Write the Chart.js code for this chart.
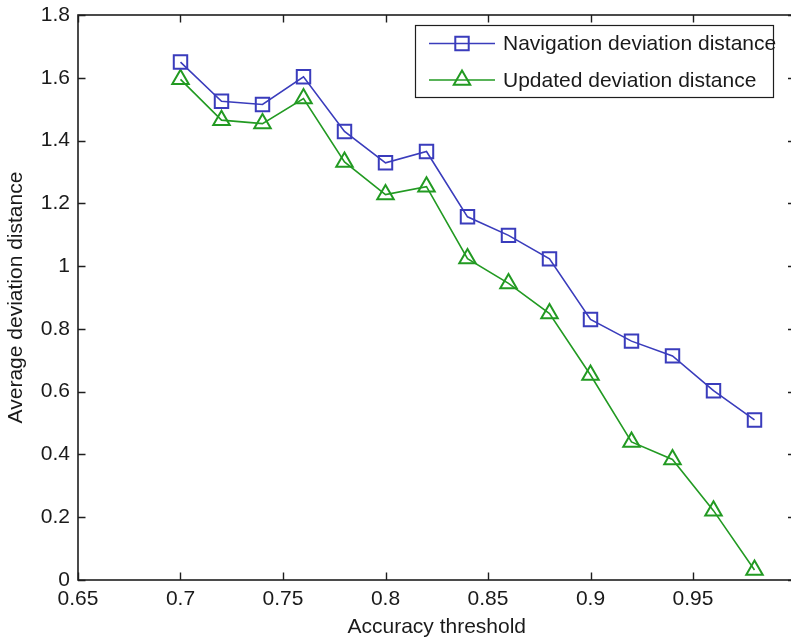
<!DOCTYPE html>
<html>
<head>
<meta charset="utf-8">
<script src="https://cdn.jsdelivr.net/npm/chart.js@4.4.1/dist/chart.umd.min.js"></script>
<style>
  html, body { margin: 0; padding: 0; background: #ffffff; overflow: hidden; }
  #wrap { width: 807px; height: 641px; }
</style>
</head>
<body>
<div id="wrap"><canvas id="c" width="807" height="641"></canvas></div>
<script>
// ---- data ----
const thresholds = [0.70, 0.72, 0.74, 0.76, 0.78, 0.80, 0.82, 0.84, 0.86, 0.88, 0.90, 0.92, 0.94, 0.96, 0.98];
const navigationDeviation = [1.650, 1.525, 1.515, 1.603, 1.429, 1.329, 1.365, 1.157, 1.098, 1.023, 0.830, 0.761, 0.714, 0.603, 0.510];
const updatedDeviation = [1.595, 1.465, 1.454, 1.534, 1.332, 1.228, 1.253, 1.024, 0.945, 0.849, 0.653, 0.440, 0.384, 0.221, 0.032];
const xTickValues = [0.65, 0.70, 0.75, 0.80, 0.85, 0.90, 0.95, 1.00];
const yTickValues = [0, 0.2, 0.4, 0.6, 0.8, 1.0, 1.2, 1.4, 1.6, 1.8];
const seriesNames = ['Navigation deviation distance', 'Updated deviation distance'];
const xTitle = 'Accuracy threshold';
const yTitle = 'Average deviation distance';

const BLUE = '#3a3cbc';
const GREEN = '#229a22';
const AXIS = '#1e1e1e';
const TEXT = '#1a1a1a';
const FONT = "'Liberation Sans', Arial, sans-serif";

function fmt(v) { return String(parseFloat(v.toFixed(2))); }

const toPoints = (ys) => thresholds.map((x, i) => ({ x: x, y: ys[i] }));

// box + inward ticks, MATLAB style
const boxPlugin = {
  id: 'matlabBox',
  afterDatasetsDraw(chart) {
    const { ctx, chartArea: a, scales } = chart;
    ctx.save();
    ctx.strokeStyle = AXIS;
    ctx.lineWidth = 1.6;
    ctx.strokeRect(a.left, a.top, a.right - a.left, a.bottom - a.top);
    const tl = 7.5;
    ctx.beginPath();
    xTickValues.forEach(v => {
      const px = Math.round(scales.x.getPixelForValue(v)) + 0.5;
      ctx.moveTo(px, a.bottom); ctx.lineTo(px, a.bottom - tl);
      ctx.moveTo(px, a.top); ctx.lineTo(px, a.top + tl);
    });
    yTickValues.forEach(v => {
      const py = Math.round(scales.y.getPixelForValue(v)) + 0.5;
      ctx.moveTo(a.left, py); ctx.lineTo(a.left + tl, py);
      ctx.moveTo(a.right, py); ctx.lineTo(a.right - tl, py);
    });
    ctx.lineWidth = 1.4;
    ctx.stroke();
    ctx.restore();
  },
  afterDraw(chart) {
    // legend box in the upper right of the plot area
    const { ctx, chartArea: a } = chart;
    const ds = chart.data.datasets;
    const bx = a.left + 337, by = a.top + 10, bw = 358, bh = 72;
    ctx.save();
    ctx.fillStyle = '#ffffff';
    ctx.fillRect(bx, by, bw, bh);
    ctx.strokeStyle = AXIS;
    ctx.lineWidth = 1.2;
    ctx.strokeRect(bx + 0.5, by + 0.5, bw, bh);
    ctx.font = '21px ' + FONT;
    ctx.textBaseline = 'middle';
    ctx.textAlign = 'left';
    const rows = [by + 18.5, by + 55];
    ds.forEach((d, i) => {
      const y = rows[i];
      ctx.strokeStyle = d.borderColor;
      ctx.lineWidth = 1.5;
      ctx.beginPath();
      ctx.moveTo(bx + 14, y); ctx.lineTo(bx + 80, y);
      ctx.stroke();
      const cx = bx + 47;
      ctx.lineWidth = 2;
      ctx.beginPath();
      if (d.pointStyle === 'rect') {
        const s = d.pointRadius * Math.SQRT1_2;
        ctx.rect(cx - s, y - s, 2 * s, 2 * s);
      } else {
        const r = d.pointRadius;
        ctx.moveTo(cx, y - r);
        ctx.lineTo(cx + r * 0.866, y + r / 2);
        ctx.lineTo(cx - r * 0.866, y + r / 2);
        ctx.closePath();
      }
      ctx.stroke();
      ctx.fillStyle = TEXT;
      ctx.fillText(d.label, bx + 88, y + 1);
    });
    ctx.restore();
  }
};

new Chart(document.getElementById('c'), {
  type: 'line',
  data: {
    datasets: [
      {
        label: seriesNames[0],
        data: toPoints(navigationDeviation),
        borderColor: BLUE,
        backgroundColor: 'rgba(0,0,0,0)',
        borderWidth: 1.6,
        pointStyle: 'rect',
        pointRadius: 9.5,
        pointBorderWidth: 2,
        pointBackgroundColor: 'rgba(0,0,0,0)',
        pointBorderColor: BLUE,
        tension: 0,
        clip: false
      },
      {
        label: seriesNames[1],
        data: toPoints(updatedDeviation),
        borderColor: GREEN,
        backgroundColor: 'rgba(0,0,0,0)',
        borderWidth: 1.6,
        pointStyle: 'triangle',
        pointRadius: 9.5,
        pointBorderWidth: 2,
        pointBackgroundColor: 'rgba(0,0,0,0)',
        pointBorderColor: GREEN,
        tension: 0,
        clip: false
      }
    ]
  },
  options: {
    responsive: false,
    animation: false,
    layout: { padding: { top: 15, right: 8, left: 0, bottom: 0 } },
    plugins: { legend: { display: false }, tooltip: { enabled: false } },
    scales: {
      x: {
        type: 'linear',
        min: 0.65,
        max: 1.0,
        afterBuildTicks: (s) => { s.ticks = xTickValues.map(v => ({ value: v })); },
        afterFit: (s) => { s.height = 61; s.paddingLeft = 0; s.paddingRight = 0; },
        grid: { display: false, drawTicks: false },
        border: { display: false },
        ticks: {
          padding: 7,
          color: TEXT,
          font: { family: FONT, size: 21 },
          maxRotation: 0,
          autoSkip: false,
          callback: (v) => fmt(v)
        },
        title: {
          display: true,
          text: xTitle,
          color: TEXT,
          font: { family: FONT, size: 21 },
          padding: { top: 0, bottom: 1 }
        }
      },
      y: {
        type: 'linear',
        min: 0,
        max: 1.8,
        afterBuildTicks: (s) => { s.ticks = yTickValues.map(v => ({ value: v })); },
        afterFit: (s) => { s.width = 78; s.paddingTop = 0; s.paddingBottom = 0; },
        grid: { display: false, drawTicks: false },
        border: { display: false },
        ticks: {
          padding: 8,
          color: TEXT,
          font: { family: FONT, size: 21 },
          autoSkip: false,
          callback: (v) => fmt(v)
        },
        title: {
          display: true,
          text: yTitle,
          color: TEXT,
          font: { family: FONT, size: 21 },
          padding: { top: 4, bottom: 0 }
        }
      }
    }
  },
  plugins: [boxPlugin]
});
</script>
</body>
</html>
